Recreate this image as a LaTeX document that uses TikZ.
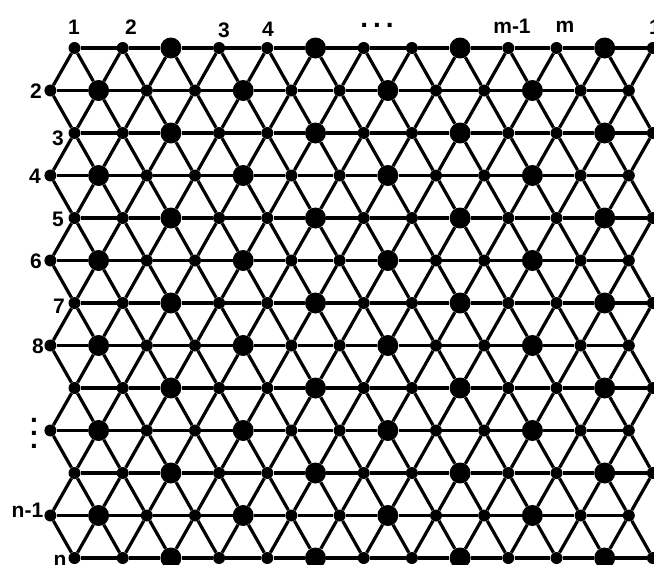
\documentclass[tikz,border=0pt]{standalone}
\usepackage{fontspec}
\setmainfont{Liberation Sans}
\begin{document}
\begin{tikzpicture}[x=1pt,y=-1pt,
  dot/.style={circle,fill=black,inner sep=0pt,minimum size=12pt},
  bigdot/.style={circle,fill=black,inner sep=0pt,minimum size=21pt},
  edge/.style={line width=3.2pt},
  lab/.style={anchor=base,inner sep=0pt,font=\fontsize{21}{24}\selectfont\bfseries},
  dotlab/.style={inner sep=0pt,font=\fontsize{28}{13}\selectfont\bfseries}]
\useasboundingbox (0,0) rectangle (654,565);
\clip (0,0) rectangle (654,565);
% lattice nodes
\foreach \r in {0,...,12} {
  \foreach \k in {0,...,12} {
    \pgfmathsetmacro{\xx}{(mod(\r,2)==0 ? 74.5 : 50.4) + 48.2*\k}
    \pgfmathsetmacro{\yy}{48+42.5*\r}
    \pgfmathtruncatemacro{\bg}{mod(\k+mod(\r,2),3)==2 ? 1 : 0}
    \ifnum\bg=1
      \node[bigdot] (v-\r-\k) at (\xx,\yy) {};
    \else
      \node[dot] (v-\r-\k) at (\xx,\yy) {};
    \fi
  }
}
% horizontal edges
\foreach \r in {0,...,12} {
  \foreach \k in {0,...,11} {
    \pgfmathtruncatemacro{\kn}{\k+1}
    \draw[edge] (v-\r-\k) -- (v-\r-\kn);
  }
}
% diagonal edges
\foreach \r in {0,...,11} {
  \pgfmathtruncatemacro{\rn}{\r+1}
  \pgfmathtruncatemacro{\rp}{mod(\r,2)}
  \foreach \k in {0,...,12} {
    \ifnum\rp=0
      \draw[edge] (v-\r-\k) -- (v-\rn-\k);
      \ifnum\k<12
        \pgfmathtruncatemacro{\kn}{\k+1}
        \draw[edge] (v-\r-\k) -- (v-\rn-\kn);
      \fi
    \else
      \draw[edge] (v-\r-\k) -- (v-\rn-\k);
      \ifnum\k>0
        \pgfmathtruncatemacro{\kp}{\k-1}
        \draw[edge] (v-\r-\k) -- (v-\rn-\kp);
      \fi
    \fi
  }
}
% top labels
\node[lab] (t1) at (74,34) {1};
\node[lab] (t2) at (131,34) {2};
\node[lab] (t3) at (224,37) {3};
\node[lab] (t4) at (268,36) {4};
\node[dotlab,anchor=base] (tdots) at (377,27) {.\hspace{5pt}.\hspace{5pt}.};
\node[lab] (tm1) at (512,33) {m-1};
\node[lab] (tm) at (565,32) {m};
\node[lab] (tend) at (655,34) {1};
% left labels
\node[lab] (l2) at (36,98) {2};
\node[lab] (l3) at (58,145) {3};
\node[lab] (l4) at (35,183) {4};
\node[lab] (l5) at (58,226) {5};
\node[lab] (l6) at (36,268) {6};
\node[lab] (l7) at (59,313) {7};
\node[lab] (l8) at (38,353) {8};
\node[dotlab] (vdots) at (34,433) {\begin{tabular}{@{}c@{}}.\\.\\.\end{tabular}};
\node[lab] (ln1) at (27.5,517) {n-1};
\node[lab] (ln) at (60,566) {n};
\end{tikzpicture}
\end{document}
